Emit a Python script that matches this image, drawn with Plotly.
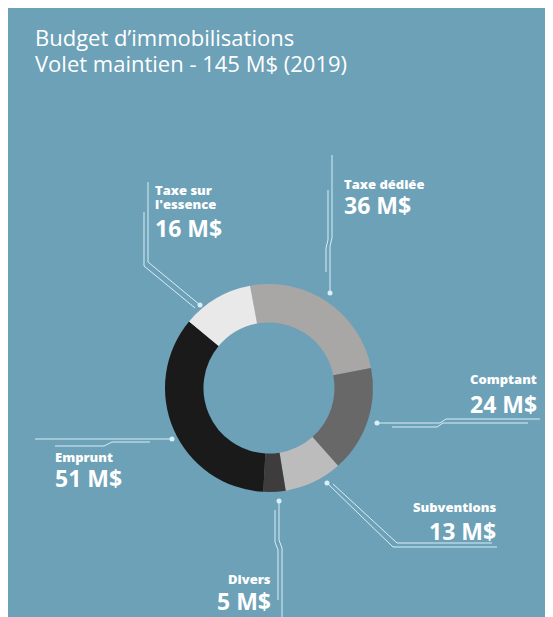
import plotly.graph_objects as go

W, H = 553, 617
OFF = 8  # page body margin of the exported html

categories = ["Taxe dédiée", "Comptant", "Subventions", "Divers", "Emprunt", "Taxe sur l'essence"]
values = [36, 24, 13, 5, 51, 16]
colors = ["#a9a7a6", "#686868", "#bdbcbc", "#3e3c3c", "#1b1a1a", "#e9e9e9"]
label_lines = [["Taxe dédiée"], ["Comptant"], ["Subventions"], ["Divers"], ["Emprunt"], ["Taxe sur", "l'essence"]]
title_lines = ["Budget d’immobilisations", "Volet maintien - 145 M$ (2019)"]

BG = "#6ca1b7"
LINE = "#d9eef6"


def px(x):
    return (x - OFF) / W


def py(y):
    return 1 - (y - OFF) / H


cx, cy, R = 269, 388, 104

fig = go.Figure(go.Pie(
    labels=categories, values=values, sort=False, direction="clockwise",
    rotation=-10.5, hole=0.63, textinfo="none", hoverinfo="skip",
    marker=dict(colors=colors, line=dict(width=0)),
    domain=dict(x=[px(cx - R), px(cx + R)], y=[py(cy + R), py(cy - R)]),
    showlegend=False,
))

shapes = []
# leader lines (decoration), screenshot-pixel polylines
leaders = [
    # Taxe dédiée
    [[(332, 155), (332, 238), (330, 246), (330, 293)], [(328, 190), (328, 240), (326, 248), (326, 272)]],
    # Comptant
    [[(377, 423), (440, 423), (446, 419), (540, 419)], [(392, 427), (437, 427), (443, 423), (528, 423)]],
    # Subventions
    [[(327, 483), (393, 547), (497, 547)], [(333, 484), (397, 543), (492, 543)]],
    # Divers
    [[(279, 501), (279, 540), (282, 548), (282, 620)], [(275, 510), (275, 542), (278, 550), (278, 600)]],
    # Emprunt
    [[(172, 439), (35, 439)], [(150, 442), (112, 442), (104, 446), (55, 446)]],
    # Taxe sur l'essence
    [[(200, 305), (148, 262), (148, 182)], [(195, 308), (144, 266), (144, 212)]],
]
dots = [(330, 293), (377, 423), (327, 483), (279, 501), (172, 439), (200, 305)]

for group in leaders:
    for pts in group:
        d = "M " + " L ".join(f"{px(x):.5f},{py(y):.5f}" for x, y in pts)
        shapes.append(dict(type="path", xref="paper", yref="paper", path=d,
                           line=dict(color=LINE, width=1)))
for x, y in dots:
    r = 2.5
    shapes.append(dict(type="circle", xref="paper", yref="paper",
                       x0=px(x - r), x1=px(x + r), y0=py(y + r), y1=py(y - r),
                       fillcolor=LINE, line=dict(width=0)))

annotations = []
FONT = "Open Sans"
for i, t in enumerate(title_lines):
    annotations.append(dict(text=t, xref="paper", yref="paper", x=px(33), y=py(37 + 26 * i),
                            xanchor="left", yanchor="middle", showarrow=False,
                            font=dict(family=FONT, size=22, color="white")))

# label placements: (x, anchor, y of first small line, y of value line)
places = [
    (342, "left", 184, 205),
    (539, "right", 379, 404),
    (498, "right", 507, 531),
    (273, "right", 579, 601),
    (53, "left", 457, 478),
    (153, "left", 190, 228),
]
for (x, anc, y1, y2), lines, v in zip(places, label_lines, values):
    for j, ln in enumerate(lines):
        annotations.append(dict(text=ln, xref="paper", yref="paper", x=px(x), y=py(y1 + 14 * j),
                                xanchor=anc, yanchor="middle", showarrow=False,
                                font=dict(family=FONT, size=13, color="white", weight=800)))
    annotations.append(dict(text=f"{v} M$", xref="paper", yref="paper", x=px(x), y=py(y2),
                            xanchor=anc, yanchor="middle", showarrow=False,
                            font=dict(family=FONT, size=23, color="white", weight=700)))

fig.update_layout(
    width=W, height=H, margin=dict(l=0, r=0, t=0, b=0),
    paper_bgcolor=BG, plot_bgcolor=BG,
    shapes=shapes, annotations=annotations,
)

fig.write_html("out.html")
